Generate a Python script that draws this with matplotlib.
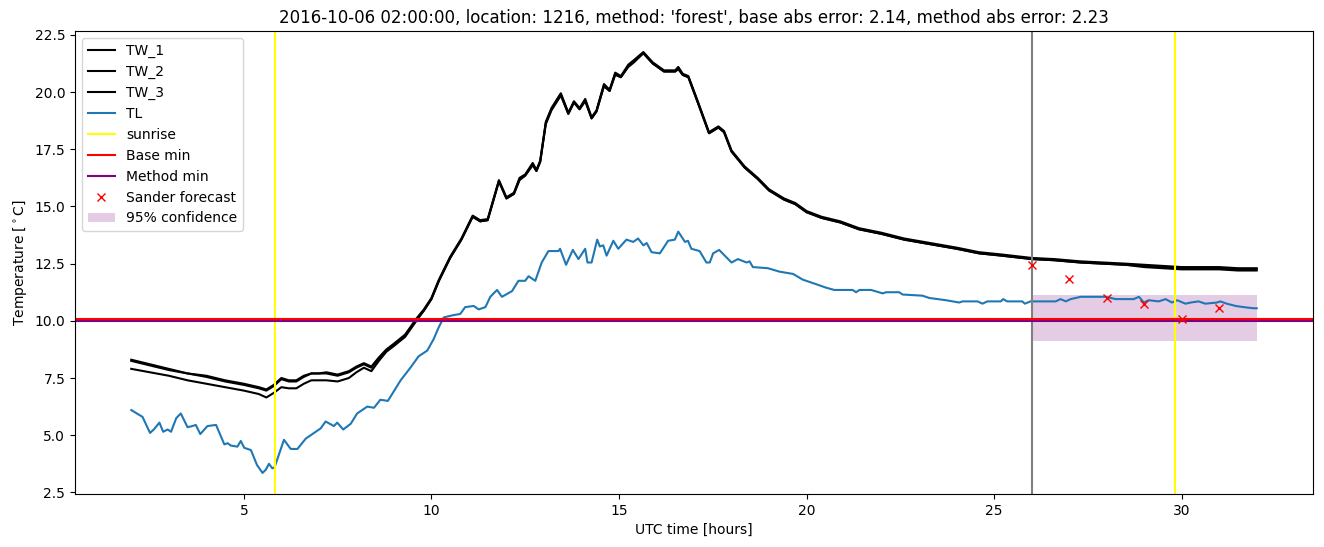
import matplotlib
matplotlib.use("Agg")
import matplotlib.pyplot as plt

# ---- data ----
tw_hours = [2.0, 2.5, 3.0, 3.5, 4.0, 4.5, 5.0, 5.4, 5.6, 5.8, 6.0, 6.2, 6.4, 6.6, 6.8,
            7.0, 7.2, 7.5, 7.8, 8.0, 8.2, 8.4, 8.6, 8.8, 9.0, 9.3, 9.6, 9.8, 10.0, 10.2,
            10.5, 10.8, 11.1, 11.3, 11.5, 11.8, 12.0, 12.2, 12.35, 12.5, 12.7, 12.8, 12.9,
            13.05, 13.2, 13.45, 13.65, 13.8, 13.95, 14.1, 14.27, 14.4, 14.6, 14.75, 14.9,
            15.05, 15.25, 15.4, 15.65, 15.9, 16.2, 16.5, 16.58, 16.7, 16.85, 17.1, 17.4,
            17.65, 17.8, 18.0, 18.35, 18.7, 19.0, 19.4, 19.7, 20.0, 20.4, 20.9, 21.4, 22.0,
            22.6, 23.3, 24.0, 24.6, 25.2, 26.0, 26.6, 27.3, 27.9, 28.5, 29.0, 29.5, 30.0,
            30.5, 31.0, 31.5, 32.0]

tw_1 = [8.3, 8.1, 7.9, 7.7, 7.6, 7.4, 7.25, 7.1, 7.0, 7.2, 7.5, 7.4, 7.4, 7.6, 7.7,
        7.7, 7.75, 7.65, 7.8, 8.0, 8.15, 8.0, 8.4, 8.75, 9.0, 9.4, 10.1, 10.5, 11.0, 11.8,
        12.8, 13.6, 14.6, 14.4, 14.45, 16.15, 15.4, 15.6, 16.25, 16.4, 16.9, 16.6, 17.0,
        18.7, 19.3, 19.95, 19.1, 19.6, 19.3, 19.7, 18.9, 19.2, 20.35, 20.1, 20.85,
        20.7, 21.2, 21.4, 21.75, 21.3, 20.95, 20.95, 21.1, 20.8, 20.7, 19.6, 18.25,
        18.5, 18.3, 17.45, 16.75, 16.25, 15.75, 15.35, 15.15, 14.8, 14.55, 14.35, 14.05, 13.85,
        13.6, 13.4, 13.2, 13.0, 12.9, 12.75, 12.7, 12.6, 12.55, 12.5, 12.45, 12.4, 12.35,
        12.35, 12.35, 12.3, 12.3]

tw_2 = [8.25, 8.05, 7.85, 7.7, 7.55, 7.35, 7.2, 7.05, 6.95, 7.15, 7.45, 7.35, 7.35, 7.55, 7.7,
        7.7, 7.7, 7.6, 7.75, 7.95, 8.1, 7.95, 8.35, 8.7, 8.95, 9.35, 10.05, 10.45, 10.95, 11.75,
        12.75, 13.55, 14.55, 14.35, 14.4, 16.1, 15.35, 15.55, 16.15, 16.35, 16.8, 16.55, 16.95,
        18.6, 19.2, 19.85, 19.05, 19.55, 19.25, 19.6, 18.85, 19.15, 20.25, 20.05, 20.75,
        20.65, 21.1, 21.3, 21.7, 21.25, 20.9, 20.9, 21.0, 20.75, 20.65, 19.55, 18.2,
        18.45, 18.25, 17.4, 16.7, 16.2, 15.7, 15.3, 15.1, 14.75, 14.5, 14.3, 14.0, 13.8,
        13.55, 13.35, 13.15, 12.95, 12.85, 12.7, 12.65, 12.55, 12.5, 12.45, 12.4, 12.35, 12.3,
        12.3, 12.3, 12.25, 12.25]

tw_3 = [7.9, 7.75, 7.6, 7.4, 7.25, 7.1, 6.95, 6.8, 6.65, 6.85, 7.1, 7.05, 7.05, 7.25, 7.4,
        7.4, 7.4, 7.35, 7.5, 7.75, 7.95, 7.8, 8.25, 8.65, 8.9, 9.3, 10.0, 10.45, 10.95, 11.75,
        12.75, 13.55, 14.55, 14.35, 14.4, 16.1, 15.35, 15.55, 16.2, 16.35, 16.85, 16.55, 16.95,
        18.65, 19.25, 19.9, 19.05, 19.55, 19.25, 19.65, 18.85, 19.15, 20.3, 20.05, 20.8,
        20.65, 21.15, 21.35, 21.7, 21.25, 20.9, 20.9, 21.05, 20.75, 20.65, 19.55, 18.2,
        18.45, 18.25, 17.4, 16.7, 16.2, 15.7, 15.3, 15.1, 14.75, 14.5, 14.3, 14.0, 13.8,
        13.55, 13.35, 13.15, 12.95, 12.85, 12.7, 12.65, 12.55, 12.5, 12.45, 12.35, 12.3, 12.25,
        12.25, 12.25, 12.2, 12.2]

tl_hours = [2.0, 2.3, 2.5, 2.6, 2.75, 2.85, 2.97, 3.06, 3.2, 3.32, 3.5, 3.63, 3.72, 3.84,
            4.03, 4.26, 4.48, 4.57, 4.65, 4.83, 4.92, 5.01, 5.19, 5.35, 5.5, 5.59, 5.67,
            5.76, 5.82, 6.07, 6.25, 6.43, 6.65, 6.87, 7.05, 7.18, 7.4, 7.49, 7.65, 7.85,
            8.02, 8.29, 8.47, 8.64, 8.84, 9.18, 9.44, 9.66, 9.89, 10.06, 10.19, 10.33,
            10.59, 10.77, 10.9, 11.13, 11.26, 11.44, 11.57, 11.75, 11.88, 12.15, 12.32,
            12.5, 12.59, 12.77, 12.94, 13.12, 13.39, 13.43, 13.59, 13.77, 13.92, 14.1,
            14.16, 14.27, 14.42, 14.49, 14.58, 14.67, 14.85, 14.98, 15.2, 15.38, 15.51,
            15.65, 15.74, 15.87, 16.09, 16.31, 16.49, 16.58, 16.76, 16.84, 16.93, 17.15,
            17.33, 17.42, 17.51, 17.67, 18.0, 18.17, 18.4, 18.48, 18.57, 18.97, 19.28,
            19.64, 19.9, 20.26, 20.52, 20.74, 21.23, 21.32, 21.41, 21.72, 22.03, 22.12,
            22.47, 22.56, 23.09, 23.27, 23.72, 24.07, 24.16, 24.56, 24.69, 24.82, 25.18,
            25.24, 25.35, 25.75, 25.82, 25.97, 26.64, 26.77, 26.91, 27.04, 27.31, 27.97,
            28.24, 28.72, 28.86, 28.99, 29.12, 29.39, 29.57, 29.74, 29.88, 30.1, 30.24,
            30.45, 30.63, 30.94, 31.03, 31.2, 31.44, 31.65, 31.91, 32.0]

tl = [6.1, 5.8, 5.1, 5.25, 5.55, 5.15, 5.25, 5.15, 5.75, 5.95, 5.35, 5.4, 5.45, 5.05,
      5.4, 5.45, 4.6, 4.65, 4.55, 4.5, 4.75, 4.45, 4.35, 3.7, 3.35, 3.5, 3.75,
      3.55, 3.6, 4.8, 4.4, 4.4, 4.85, 5.1, 5.3, 5.6, 5.4, 5.55, 5.25, 5.5,
      5.95, 6.25, 6.2, 6.55, 6.5, 7.4, 7.95, 8.45, 8.7, 9.2, 9.7, 10.15,
      10.25, 10.3, 10.6, 10.65, 10.5, 10.6, 11.05, 11.35, 11.05, 11.3, 11.75,
      11.75, 11.95, 11.75, 12.55, 13.05, 13.05, 13.15, 12.45, 13.1, 12.7, 13.15,
      12.55, 12.55, 13.55, 13.25, 13.3, 12.85, 13.5, 13.15, 13.55, 13.45, 13.6,
      13.3, 13.4, 13.0, 12.95, 13.5, 13.55, 13.9, 13.45, 13.5, 13.15, 13.05,
      12.55, 12.55, 12.95, 13.1, 12.55, 12.7, 12.55, 12.6, 12.35, 12.3, 12.15,
      12.05, 11.8, 11.6, 11.45, 11.35, 11.35, 11.25, 11.35, 11.35, 11.2, 11.25,
      11.25, 11.15, 11.1, 11.0, 10.9, 10.8, 10.85, 10.85, 10.75, 10.85, 10.85,
      10.95, 10.85, 10.85, 10.75, 10.85, 10.85, 10.95, 10.85, 10.95, 11.05, 11.05,
      10.95, 10.95, 11.05, 10.8, 10.9, 10.85, 10.95, 10.8, 10.9, 10.75, 10.8,
      10.85, 10.75, 10.8, 10.85, 10.75, 10.65, 10.6, 10.55, 10.55]

sunrise_hours = [5.82, 29.82]
forecast_start = 26.0
base_min = 10.1
method_min = 10.01
sander_hours = [26, 27, 28, 29, 30, 31]
sander_values = [12.45, 11.85, 11.0, 10.72, 10.08, 10.55]
conf_hours = [26.0, 32.0]
conf_low = [9.1, 9.1]
conf_high = [11.15, 11.15]

title = ("2016-10-06 02:00:00, location: 1216, method: 'forest', "
         "base abs error: 2.14, method abs error: 2.23")

# ---- plot ----
fig = plt.figure(figsize=(13.24, 5.47), dpi=100)
ax = fig.add_axes([75 / 1324, 53 / 547, (1313 - 75) / 1324, (516 - 53) / 547])

ax.plot(tw_hours, tw_1, color="black", label="TW_1")
ax.plot(tw_hours, tw_2, color="black", label="TW_2")
ax.plot(tw_hours, tw_3, color="black", label="TW_3")
ax.plot(tl_hours, tl, color="C0", label="TL")
for i, s in enumerate(sunrise_hours):
    ax.axvline(s, color="yellow", label="sunrise" if i == 0 else None)
ax.axvline(forecast_start, color="gray")
ax.axhline(base_min, color="red", label="Base min")
ax.axhline(method_min, color="purple", label="Method min")
ax.plot(sander_hours, sander_values, "x", color="red", linestyle="none", label="Sander forecast")
ax.fill_between(conf_hours, conf_low, conf_high, color="purple", alpha=0.2,
                linewidth=0, label="95% confidence")

ax.set_title(title)
ax.set_xlabel("UTC time [hours]")
ax.set_ylabel("Temperature [$^\\circ$C]")
ax.legend(loc="upper left")

fig.savefig("out.png", dpi=100)
